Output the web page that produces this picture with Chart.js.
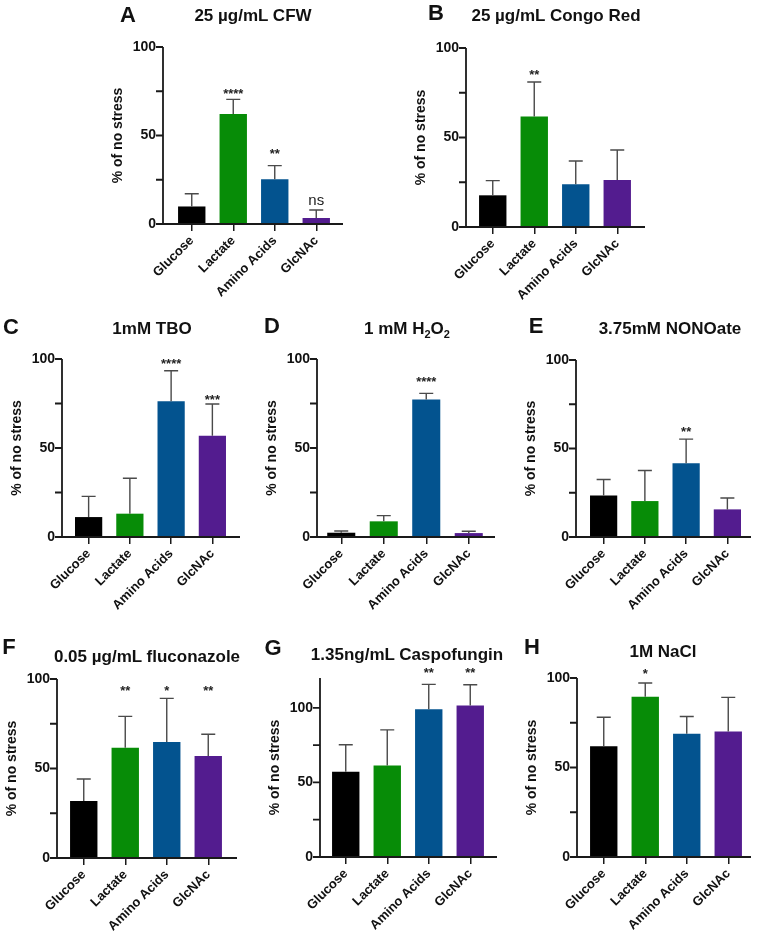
<!DOCTYPE html>
<html lang="en">
<head>
<meta charset="UTF-8">
<title>Growth under stress by carbon source</title>
<script src="https://cdn.jsdelivr.net/npm/chart.js@4.4.1/dist/chart.umd.min.js"></script>
<style>
  body { margin: 0; background: #fff; font-family: "Liberation Sans", Arial, sans-serif; }
  #fig { position: relative; width: 757px; height: 936px; overflow: hidden; }
  canvas { position: absolute; }
  .letter, .title {
    position: absolute; transform: translate(-50%, -50%);
    font-weight: bold; color: #111; line-height: 1; white-space: nowrap;
  }
  .letter { font-size: 22px; }
  .title { font-size: 17px; }
  .title sub { font-size: 11px; vertical-align: -4px; line-height: 0; }
</style>
</head>
<body>
<div id="fig"></div>
<script>
const categories = ['Glucose', 'Lactate', 'Amino Acids', 'GlcNAc'];
const barColors = ['#000000', '#078c07', '#03538f', '#531c8f'];

// A - CFW
const cfwMean = [9.9, 62.1, 25.3, 3.4];
const cfwErr = [7.2, 8.3, 7.7, 4.5];
const cfwSig = ['', '****', '**', 'ns'];
const cfwSigAt = [0, 75.6, 41.8, 13.1];

// B - Congo Red
const congoMean = [17.7, 61.7, 23.9, 26.3];
const congoErr = [8.2, 19.3, 13.0, 16.7];
const congoSig = ['', '**', '', ''];
const congoSigAt = [0, 86.6, 0, 0];

// C - TBO
const tboMean = [11.2, 13.1, 76.2, 56.9];
const tboErr = [11.6, 19.9, 17.2, 17.8];
const tboSig = ['', '', '****', '***'];
const tboSigAt = [0, 0, 99, 79];

// D - H2O2
const h2o2Mean = [2.4, 8.8, 77.2, 2.2];
const h2o2Err = [1.0, 3.2, 3.5, 1.0];
const h2o2Sig = ['', '', '****', ''];
const h2o2SigAt = [0, 0, 88.8, 0];

// E - NONOate
const nonoMean = [23.5, 20.3, 41.7, 15.6];
const nonoErr = [9.0, 17.3, 13.6, 6.4];
const nonoSig = ['', '', '**', ''];
const nonoSigAt = [0, 0, 61.5, 0];

// F - fluconazole
const flucMean = [31.8, 61.6, 64.8, 57.0];
const flucErr = [12.3, 17.5, 24.4, 12.1];
const flucSig = ['', '**', '*', '**'];
const flucSigAt = [0, 95, 95, 95];

// G - caspofungin
const caspoMean = [57.1, 61.3, 99.1, 101.6];
const caspoErr = [18.2, 23.9, 16.6, 13.9];
const caspoSig = ['', '', '**', '**'];
const caspoSigAt = [0, 0, 125.8, 125.8];

// H - NaCl
const naclMean = [61.9, 89.5, 68.8, 70.1];
const naclErr = [16.2, 7.7, 9.7, 19.1];
const naclSig = ['', '*', '', ''];
const naclSigAt = [0, 104, 0, 0];

const panels = [
  { letter: 'A', title: '25 µg/mL CFW', mean: cfwMean, err: cfwErr, sig: cfwSig, sigAt: cfwSigAt, max: 100 },
  { letter: 'B', title: '25 µg/mL Congo Red', mean: congoMean, err: congoErr, sig: congoSig, sigAt: congoSigAt, max: 100 },
  { letter: 'C', title: '1mM TBO', mean: tboMean, err: tboErr, sig: tboSig, sigAt: tboSigAt, max: 100 },
  { letter: 'D', title: '1 mM H<sub>2</sub>O<sub>2</sub>', mean: h2o2Mean, err: h2o2Err, sig: h2o2Sig, sigAt: h2o2SigAt, max: 100 },
  { letter: 'E', title: '3.75mM NONOate', mean: nonoMean, err: nonoErr, sig: nonoSig, sigAt: nonoSigAt, max: 100 },
  { letter: 'F', title: '0.05 µg/mL fluconazole', mean: flucMean, err: flucErr, sig: flucSig, sigAt: flucSigAt, max: 100 },
  { letter: 'G', title: '1.35ng/mL Caspofungin', mean: caspoMean, err: caspoErr, sig: caspoSig, sigAt: caspoSigAt, max: 120 },
  { letter: 'H', title: '1M NaCl', mean: naclMean, err: naclErr, sig: naclSig, sigAt: naclSigAt, max: 100 }
];

// page geometry: y-axis line x, plot left/right, x-axis end, top and zero line, letter and title centres
const frames = [
  { axisX: 163, left: 171, right: 337, end: 343, top: 47, zero: 224, lx: 128, ly: 15, tx: 253, ty: 15 },
  { axisX: 466, left: 472, right: 638, end: 645, top: 48, zero: 227, lx: 436, ly: 13, tx: 556, ty: 15 },
  { axisX: 62, left: 68, right: 233, end: 240, top: 359, zero: 537, lx: 11, ly: 327, tx: 152, ty: 328 },
  { axisX: 317, left: 320, right: 490, end: 495, top: 359, zero: 537, lx: 272, ly: 326, tx: 407, ty: 328 },
  { axisX: 576, left: 583, right: 748, end: 751, top: 360, zero: 537, lx: 536, ly: 326, tx: 670, ty: 328 },
  { axisX: 57, left: 63, right: 229, end: 237, top: 679, zero: 858, lx: 9, ly: 647, tx: 147, ty: 656 },
  { axisX: 320, left: 325, right: 491, end: 497, top: 678, zero: 857, lx: 273, ly: 648, tx: 407, ty: 654 },
  { axisX: 577, left: 583, right: 749, end: 751, top: 678, zero: 857, lx: 532, ly: 647, tx: 663, ty: 651 }
];

const FONT = '"Liberation Sans", Arial, sans-serif';
Chart.defaults.font.family = FONT;
Chart.defaults.color = '#111';

const padTop = 24, xAxisH = 90;

const marks = {
  id: 'marks',
  afterDatasetsDraw(chart, args, opts) {
    const { ctx, chartArea } = chart;
    const y = chart.scales.y;
    const p = opts.panel, f = opts.frame;
    const bars = chart.getDatasetMeta(0).data;
    const axisX = chartArea.left - (f.left - f.axisX);
    const endX = chartArea.right + (f.end - f.right);
    const y0 = y.getPixelForValue(0);
    ctx.save();
    // upper error bars
    ctx.strokeStyle = '#4a4a4a';
    ctx.lineWidth = 1.4;
    bars.forEach((bar, i) => {
      const yt = y.getPixelForValue(p.mean[i] + p.err[i]);
      ctx.beginPath();
      ctx.moveTo(bar.x, y.getPixelForValue(p.mean[i]));
      ctx.lineTo(bar.x, yt);
      ctx.moveTo(bar.x - 7, yt);
      ctx.lineTo(bar.x + 7, yt);
      ctx.stroke();
    });
    // axes
    ctx.strokeStyle = '#1a1a1a';
    ctx.lineWidth = 1.8;
    ctx.beginPath();
    ctx.moveTo(axisX, y.getPixelForValue(y.max));
    ctx.lineTo(axisX, y0 + 0.9);
    ctx.moveTo(axisX - 0.9, y0);
    ctx.lineTo(endX, y0);
    y.ticks.forEach(t => {
      const ty = y.getPixelForValue(t.value);
      ctx.moveTo(axisX - 7, ty);
      ctx.lineTo(axisX, ty);
    });
    ctx.stroke();
    // significance marks
    ctx.fillStyle = '#222';
    ctx.textAlign = 'center';
    ctx.textBaseline = 'alphabetic';
    p.sig.forEach((s, i) => {
      if (!s) return;
      const sy = y.getPixelForValue(p.sigAt[i]);
      if (s === 'ns') {
        ctx.font = '15px ' + FONT;
        ctx.fillText(s, bars[i].x, sy + 4);
      } else {
        ctx.font = 'bold 13px ' + FONT;
        ctx.fillText(s, bars[i].x, sy + 7.5);
      }
    });
    ctx.restore();
  }
};

const fig = document.getElementById('fig');

panels.forEach((p, k) => {
  const f = frames[k];
  const gap = f.left - f.axisX;
  const yW = gap + 57;
  const padR = f.end - f.right + 3;
  const w = yW + (f.right - f.left) + padR;
  const h = padTop + (f.zero - f.top) + xAxisH;
  const cv = document.createElement('canvas');
  cv.width = w; cv.height = h;
  cv.style.width = w + 'px'; cv.style.height = h + 'px';
  cv.style.left = (f.left - yW) + 'px';
  cv.style.top = (f.top - padTop) + 'px';
  fig.appendChild(cv);

  new Chart(cv, {
    type: 'bar',
    data: {
      labels: categories,
      datasets: [{
        data: p.mean,
        backgroundColor: barColors,
        borderWidth: 0,
        barPercentage: 0.66,
        categoryPercentage: 1
      }]
    },
    options: {
      responsive: false,
      animation: false,
      devicePixelRatio: 1,
      layout: { padding: { top: padTop, right: padR, left: 0, bottom: 0 } },
      plugins: { legend: { display: false }, tooltip: { enabled: false }, marks: { panel: p, frame: f } },
      scales: {
        x: {
          offset: true,
          grid: { display: true, drawOnChartArea: false, offset: false, tickLength: 7, color: '#1a1a1a', lineWidth: 1.5 },
          border: { display: false },
          ticks: { font: { size: 13, weight: 'bold' }, color: '#111', minRotation: 45, maxRotation: 45, autoSkip: false, padding: 2 },
          afterFit: s => { s.height = xAxisH; }
        },
        y: {
          min: 0,
          max: p.max,
          grid: { display: false, drawTicks: false },
          border: { display: false },
          ticks: {
            stepSize: 25,
            includeBounds: false,
            padding: gap + 7,
            font: { size: 14, weight: 'bold' },
            color: '#111',
            callback: v => (v % 50 === 0 ? v : '')
          },
          title: { display: true, text: '% of no stress', font: { size: 14, weight: 'bold' }, color: '#111' },
          afterFit: s => { s.width = yW; }
        }
      }
    },
    plugins: [marks]
  });

  const letter = document.createElement('div');
  letter.className = 'letter';
  letter.textContent = p.letter;
  letter.style.left = f.lx + 'px';
  letter.style.top = f.ly + 'px';
  fig.appendChild(letter);

  const title = document.createElement('div');
  title.className = 'title';
  title.innerHTML = p.title;
  title.style.left = f.tx + 'px';
  title.style.top = f.ty + 'px';
  fig.appendChild(title);
});
</script>
</body>
</html>
